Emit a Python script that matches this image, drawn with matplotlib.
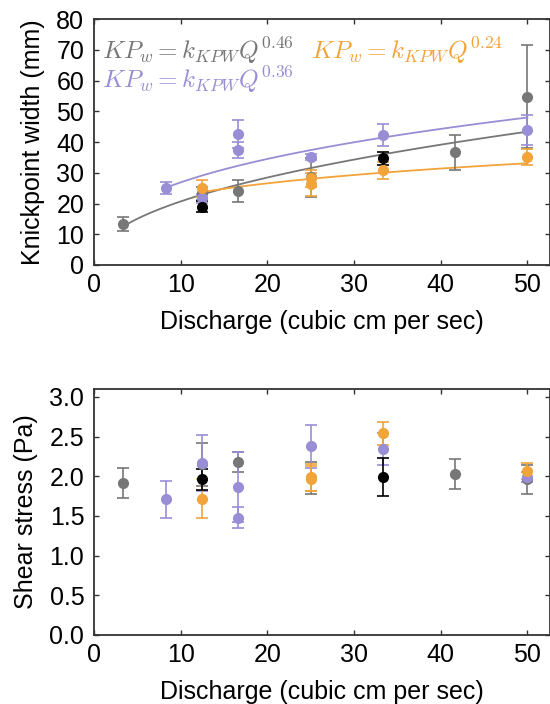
import numpy as np
import matplotlib
matplotlib.use('Agg')
import matplotlib.pyplot as plt

plt.rcParams['font.family'] = ['Liberation Sans', 'DejaVu Sans']
plt.rcParams['mathtext.fontset'] = 'cm'

gray = '#777777'
purple = '#988ed5'
orange = '#f2a33a'
black = '#000000'

# knickpoint width (mm)
gray_q = [3.3, 12.5, 16.6, 25.0, 41.6, 50.0]
gray_w = [13.2, 23.3, 24.1, 28.5, 36.6, 54.7]
gray_we = [2.3, 2.0, 3.5, 6.3, 5.8, 16.8]

purple_q = [8.3, 12.5, 16.6, 16.6, 25.0, 33.3, 50.0]
purple_w = [25.1, 21.7, 42.6, 37.4, 35.2, 42.3, 43.9]
purple_we = [2.0, 1.5, 4.5, 2.5, 1.0, 3.5, 5.0]

orange_q = [12.5, 25.0, 25.0, 33.3, 50.0]
orange_w = [24.9, 28.2, 26.2, 30.8, 35.1]
orange_we = [2.8, 2.8, 3.6, 2.7, 2.7]

black_q = [12.5, 33.3]
black_w = [19.0, 34.7]
black_we = [1.9, 2.2]

# shear stress (Pa)
gray_s = [1.92, 2.15, 2.18, 1.98, 2.03, 1.96]
gray_se = [0.19, 0.27, 0.12, 0.20, 0.19, 0.18]
purple_s = [1.71, 2.17, 1.87, 1.48, 2.38, 2.34, 1.99]
purple_se = [0.23, 0.35, 0.44, 0.13, 0.27, 0.20, 0.06]
orange_s = [1.72, 1.99, 1.97, 2.54, 2.07]
orange_se = [0.24, 0.17, 0.16, 0.15, 0.10]
black_s = [1.96, 1.99]
black_se = [0.13, 0.24]

# power law fits KP_w = k Q^b
fits = [(gray, 7.17, 0.46, 3.3), (purple, 11.73, 0.36, 8.3), (orange, 12.94, 0.24, 12.5)]

fig = plt.figure(figsize=(5.5, 7.04), dpi=100)
ax1 = fig.add_axes([94/550, 1-265/704, 456/550, 246/704])
ax2 = fig.add_axes([94/550, 1-635/704, 456/550, 246/704])

series = [(gray, gray_q, gray_w, gray_we, gray_s, gray_se),
          (purple, purple_q, purple_w, purple_we, purple_s, purple_se),
          (orange, orange_q, orange_w, orange_we, orange_s, orange_se),
          (black, black_q, black_w, black_we, black_s, black_se)]

for c, k, b, q0 in fits:
    q = np.linspace(q0, 50, 100)
    ax1.plot(q, k*q**b, color=c, lw=1.3, zorder=1)

for c, q, w, we, s, se in series:
    ax1.errorbar(q, w, yerr=we, fmt='o', color=c, ms=7, elinewidth=1.2,
                 capsize=4, capthick=1.2, zorder=2)
    ax2.errorbar(q, s, yerr=se, fmt='o', color=c, ms=7, elinewidth=1.2,
                 capsize=4, capthick=1.2, zorder=2)

fs = 18
ax1.text(0.018, 0.935, r'$KP_w =k_{KPW}Q^{0.46}$', color=gray, fontsize=18,
         transform=ax1.transAxes, va='top')
ax1.text(0.018, 0.815, r'$KP_w =k_{KPW}Q^{0.36}$', color=purple, fontsize=18,
         transform=ax1.transAxes, va='top')
ax1.text(0.475, 0.935, r'$KP_w =k_{KPW}Q^{0.24}$', color=orange, fontsize=18,
         transform=ax1.transAxes, va='top')

ax1.set_ylim(0, 80)
ax1.set_yticks(np.arange(0, 81, 10))
ax1.set_ylabel('Knickpoint width (mm)', fontsize=fs, labelpad=8)
ax2.set_ylim(0, 3.1)
ax2.set_yticks(np.arange(0, 3.01, 0.5))
ax2.set_yticklabels(['%.1f' % v for v in np.arange(0, 3.01, 0.5)])
ax2.set_ylabel('Shear stress (Pa)', fontsize=fs, labelpad=8)

for ax in (ax1, ax2):
    ax.set_xlim(0, 52.6)
    ax.set_xticks(np.arange(0, 51, 10))
    ax.set_xlabel('Discharge (cubic cm per sec)', fontsize=fs, labelpad=9)
    ax.tick_params(direction='in', top=True, right=True, length=3.5,
                   width=1, labelsize=fs, color='#333333')
    ax.tick_params(axis='y', pad=7)
    ax.tick_params(axis='x', pad=6)
    for sp in ax.spines.values():
        sp.set_linewidth(1.3)
        sp.set_color('#333333')

fig.savefig('out.png', dpi=100)
